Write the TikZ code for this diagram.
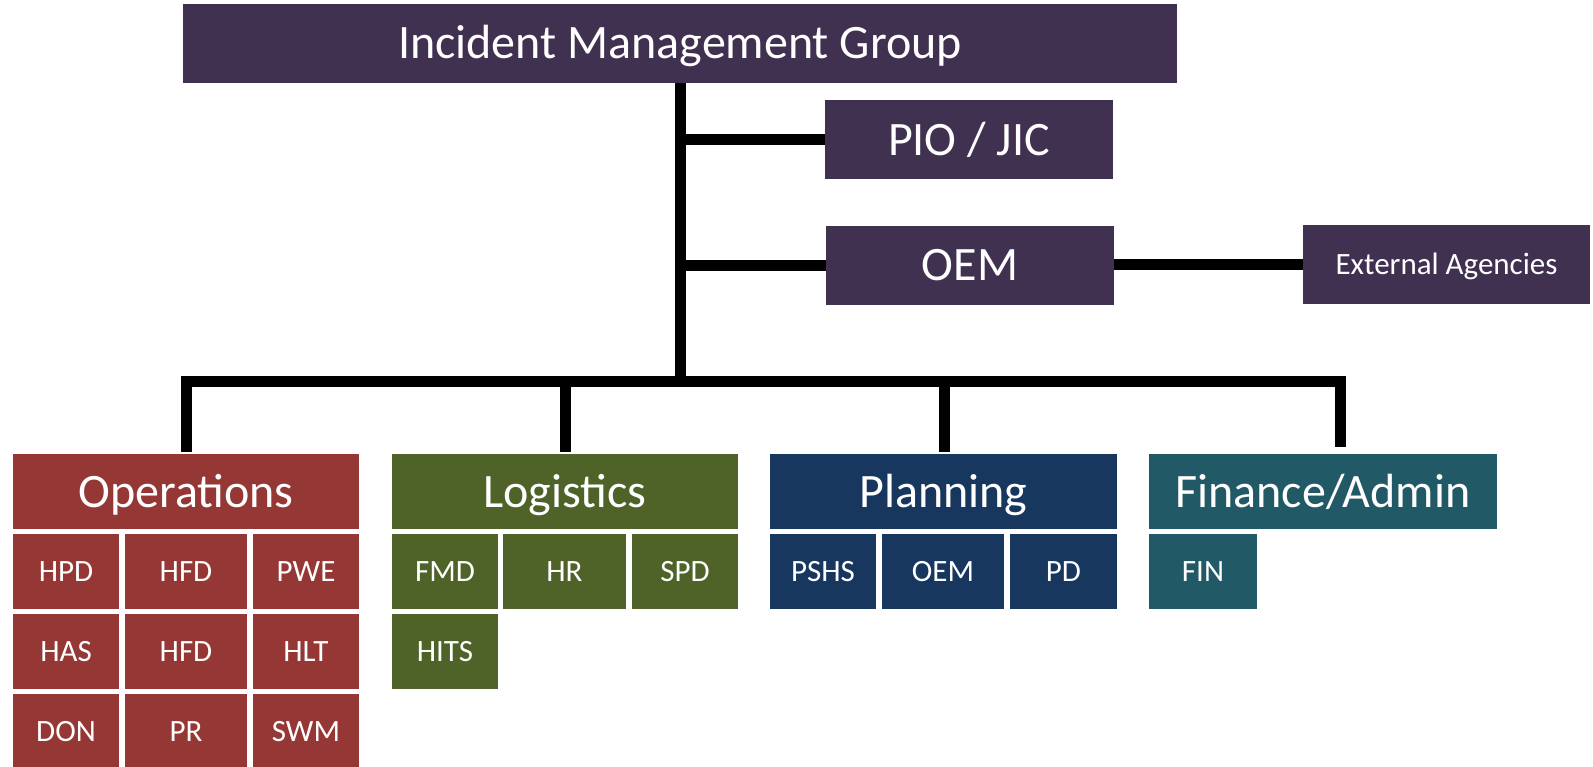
\documentclass[tikz,border=0pt]{standalone}
\usepackage{fontspec}
\setmainfont{Carlito}
\definecolor{cpurple}{HTML}{403151}
\definecolor{cred}{HTML}{953735}
\definecolor{cgreen}{HTML}{4F6228}
\definecolor{cnavy}{HTML}{17375E}
\definecolor{cteal}{HTML}{215967}
\begin{document}
\begin{tikzpicture}[x=1bp,y=-1bp,
  box/.style={rectangle, inner sep=0pt, text=white, text depth=0pt, anchor=center},
  big/.style={box, text height=31bp, font=\fontsize{48bp}{50bp}\selectfont},
  small/.style={box, text height=20bp, font=\fontsize{31bp}{33bp}\selectfont},
  conn/.style={line width=11bp, draw=black}]
\clip (0,0) rectangle (1593,767);
\fill[white] (0,0) rectangle (1593,767);
% top
\node[big, fill=cpurple, minimum width=994bp, minimum height=79bp] (img) at (680,43.5) {Incident Management Group};
\node[big, fill=cpurple, minimum width=288bp, minimum height=79bp] (pio) at (969,139.5) {PIO / JIC};
\node[big, fill=cpurple, minimum width=288bp, minimum height=79bp] (oem) at (970,265) {OEM};
\node[small, fill=cpurple, minimum width=287bp, minimum height=79bp] (ext) at (1446.5,264) {External Agencies};
% headers
\node[big, fill=cred, minimum width=346bp, minimum height=75bp] (ops) at (186,491.5) {Operations};
\node[big, fill=cgreen, minimum width=346bp, minimum height=75bp] (log) at (565,491.5) {Logistics};
\node[big, fill=cnavy, minimum width=347bp, minimum height=75bp] (pln) at (943.5,491.5) {Planning};
\node[big, fill=cteal, minimum width=348bp, minimum height=75bp] (fin) at (1323,491.5) {Finance/Admin};
% operations
\node[small, fill=cred, minimum width=106bp, minimum height=75bp] (o11) at (66,571.5) {HPD};
\node[small, fill=cred, minimum width=122bp, minimum height=75bp] (o12) at (186,571.5) {HFD};
\node[small, fill=cred, minimum width=106bp, minimum height=75bp] (o13) at (306,571.5) {PWE};
\node[small, fill=cred, minimum width=106bp, minimum height=75bp] (o21) at (66,651.5) {HAS};
\node[small, fill=cred, minimum width=122bp, minimum height=75bp] (o22) at (186,651.5) {HFD};
\node[small, fill=cred, minimum width=106bp, minimum height=75bp] (o23) at (306,651.5) {HLT};
\node[small, fill=cred, minimum width=106bp, minimum height=75bp] (o31) at (66,731.5) {DON};
\node[small, fill=cred, minimum width=122bp, minimum height=75bp] (o32) at (186,731.5) {PR};
\node[small, fill=cred, minimum width=106bp, minimum height=75bp] (o33) at (306,731.5) {SWM};
% logistics
\node[small, fill=cgreen, minimum width=106bp, minimum height=75bp] (l11) at (445,571.5) {FMD};
\node[small, fill=cgreen, minimum width=123bp, minimum height=75bp] (l12) at (564.5,571.5) {HR};
\node[small, fill=cgreen, minimum width=106bp, minimum height=75bp] (l13) at (685,571.5) {SPD};
\node[small, fill=cgreen, minimum width=106bp, minimum height=75bp] (l21) at (445,651.5) {HITS};
% planning
\node[small, fill=cnavy, minimum width=106bp, minimum height=75bp] (p11) at (823,571.5) {PSHS};
\node[small, fill=cnavy, minimum width=122bp, minimum height=75bp] (p12) at (943,571.5) {OEM};
\node[small, fill=cnavy, minimum width=107bp, minimum height=75bp] (p13) at (1063.5,571.5) {PD};
% finance
\node[small, fill=cteal, minimum width=108bp, minimum height=75bp] (f11) at (1203,571.5) {FIN};
% connectors
\coordinate (bus) at (680,381);
\coordinate (d1) at (186,452);
\coordinate (d2) at (565,452);
\coordinate (d3) at (944,452);
\coordinate (d4) at (1340,447);
\draw[conn] (img.south) -- (img.south |- bus);
\draw[conn] (img.south |- pio.west) -- (pio.west);
\draw[conn] (img.south |- oem.west) -- (oem.west);
\draw[conn] (oem.east |- ext.west) -- (ext.west);
\draw[conn] (d1) |- (bus) -| (d4);
\draw[conn] (d2) -- (d2 |- bus);
\draw[conn] (d3) -- (d3 |- bus);
\end{tikzpicture}
\end{document}
